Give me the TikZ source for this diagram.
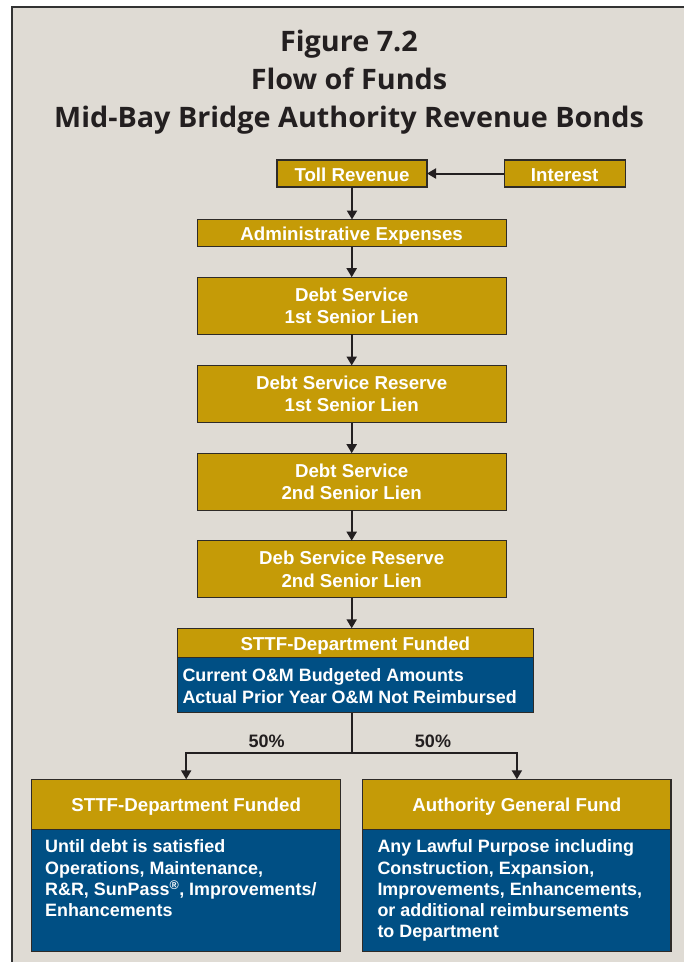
\documentclass[tikz,border=0pt]{standalone}
\usepackage{fontspec}
\setmainfont{Liberation Sans}
\newfontfamily\titlefont{Open Sans}[FakeStretch=1.02]
\usetikzlibrary{arrows.meta}

\definecolor{paper}{HTML}{DFDBD4}
\definecolor{framegray}{HTML}{333333}
\definecolor{gold}{HTML}{C59B07}
\definecolor{navy}{HTML}{004F84}
\definecolor{ink}{HTML}{231F20}
\definecolor{edge}{HTML}{2E2B28}

\tikzset{
  goldbox/.style={draw=edge, line width=1.3pt, fill=gold, text=white,
    inner sep=0pt, outer sep=0pt, align=center,
    font=\fontsize{18.7}{22.6}\selectfont\bfseries},
  onerow/.style={text height=15.8pt, text depth=0.6pt},
  navybox/.style={draw=edge, line width=1.3pt, fill=navy,
    inner sep=0pt, outer sep=0pt},
  bodytext/.style={text=white, inner sep=0pt, align=left, anchor=north west,
    font=\fontsize{17.9}{21.3}\selectfont\bfseries},
  pct/.style={text=ink, inner sep=0pt, anchor=base,
    font=\fontsize{18}{20}\selectfont\bfseries},
  flow/.style={draw=ink, line width=2pt, -{Triangle[width=10pt,length=9pt]}},
}

\begin{document}
\begin{tikzpicture}[x=1pt,y=-1pt]
  % page and panel frame
  \useasboundingbox (0,0) rectangle (684,962);
  \fill[white] (0,0) rectangle (684,962);
  \fill[paper] (12,7) rectangle (684,962);
  \draw[framegray, line width=2.6pt] (12,962) -- (12,7) -- (684,7);

  % title
  \node[font=\titlefont\bfseries\fontsize{28.2}{38}\selectfont, text=ink,
        align=center, anchor=north, inner sep=0pt] (title) at (349,30)
    {Figure 7.2\\Flow of Funds\\Mid-Bay Bridge Authority Revenue Bonds};

  % revenue chain
  \node[goldbox, onerow, minimum width=150, minimum height=27] (toll) at (352,173.5) {Toll Revenue};
  \node[goldbox, onerow, minimum width=121, minimum height=27] (interest) at (564.7,173.5) {Interest};
  \node[goldbox, onerow, minimum width=309, minimum height=27] (admin) at (351.7,233) {Administrative Expenses};
  \node[goldbox, minimum width=309, minimum height=57] (ds1) at (351.7,305.7) {Debt Service\\1st Senior Lien};
  \node[goldbox, minimum width=309, minimum height=57] (dsr1) at (351.7,394) {Debt Service Reserve\\1st Senior Lien};
  \node[goldbox, minimum width=309, minimum height=57] (ds2) at (351.7,481.7) {Debt Service\\2nd Senior Lien};
  \node[goldbox, minimum width=309, minimum height=57] (dsr2) at (351.7,569.2) {Deb Service Reserve\\2nd Senior Lien};

  % department funded O&M block
  \node[navybox, minimum width=356, minimum height=55.4] (sttfb) at (355.3,685) {};
  \node[goldbox, onerow, minimum width=356, minimum height=29] (sttfh) at (355.3,642.8) {STTF-Department Funded};
  \node[bodytext] (sttft) at (182.3,668.6)
    {Current O\&M Budgeted Amounts\\Actual Prior Year O\&M Not Reimbursed};

  % left destination
  \node[navybox, minimum width=309, minimum height=122.4] (lb) at (186.2,890.5) {};
  \node[goldbox, onerow, minimum width=309, minimum height=50] (lh) at (186.2,804.3) {STTF-Department Funded};
  \node[bodytext] (lt) at (45,839.6)
    {Until debt is satisfied\\Operations, Maintenance,\\R\&R, SunPass\textsuperscript{®}, Improvements/\\Enhancements};

  % right destination
  \node[navybox, minimum width=308.3, minimum height=122.4] (rb) at (516.9,890.5) {};
  \node[goldbox, onerow, minimum width=308.3, minimum height=50] (rh) at (516.9,804.3) {Authority General Fund};
  \node[bodytext] (rt) at (377.3,839.6)
    {Any Lawful Purpose including\\Construction, Expansion,\\Improvements, Enhancements,\\or additional reimbursements\\to Department};

  % connectors
  \draw[flow] (interest.west) -- (toll.east);
  \draw[flow] (toll.south) -- (toll.south |- admin.north);
  \draw[flow] (admin.south) -- (admin.south |- ds1.north);
  \draw[flow] (ds1.south) -- (dsr1.north);
  \draw[flow] (dsr1.south) -- (ds2.north);
  \draw[flow] (ds2.south) -- (dsr2.north);
  \draw[flow] (dsr2.south) -- (dsr2.south |- sttfh.north);

  \coordinate (split) at (352,753.3);
  \draw[ink, line width=2pt] (split |- sttfb.south) -- (split);
  \draw[flow] (split) -| (lh.north);
  \draw[flow] (split) -| (rh.north);

  \node[pct] (pl) at (266.7,747.3) {50\%};
  \node[pct] (pr) at (433,747.3) {50\%};
\end{tikzpicture}
\end{document}
